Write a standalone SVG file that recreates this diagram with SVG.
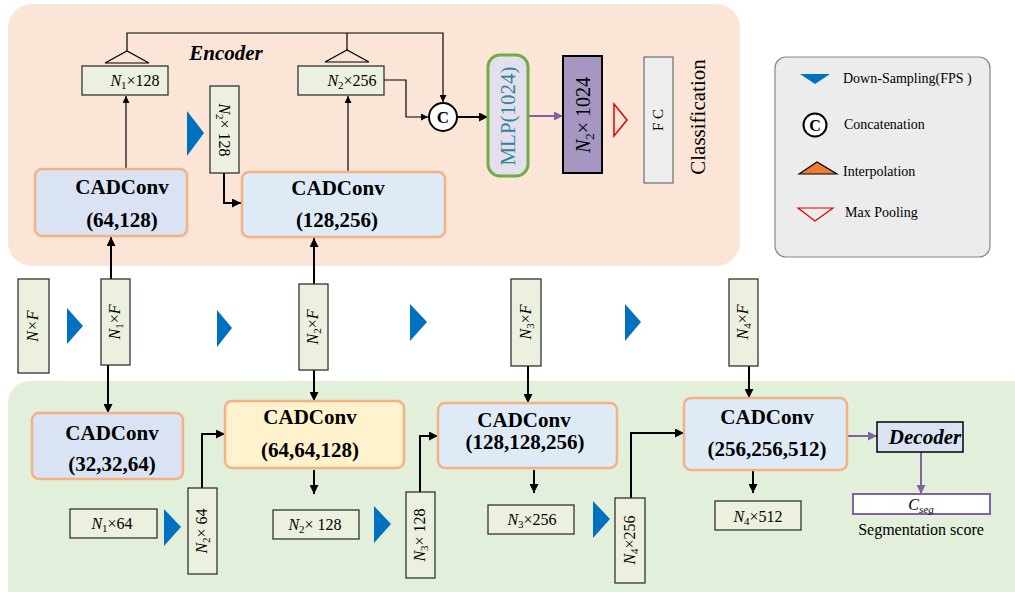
<svg xmlns="http://www.w3.org/2000/svg" width="1015" height="592" viewBox="0 0 1015 592" font-family="'Liberation Serif', serif">
<style>
.bg1{fill:#fbe5d6}
.bg2{fill:#e2efda}
.nb{fill:#ebf1de;stroke:#333;stroke-width:1.3}
.cad{stroke:#f4b183;stroke-width:2.5}
.t{font-family:"Liberation Serif",serif;fill:#000}
.n{font-size:16px}
.ct{font-size:21px;font-weight:bold;text-anchor:middle}
.ds{fill:#0070c0}
.ln{fill:none;stroke:#000}
.thk{stroke-width:2}
.thn{stroke-width:1.2}
.pu{fill:none;stroke:#8064a2;stroke-width:2}
.lg{font-size:14px}
</style>
<defs>
<marker id="ah" viewBox="0 0 10 10" refX="10" refY="5" markerWidth="10" markerHeight="9" markerUnits="userSpaceOnUse" orient="auto"><path d="M0,0L10,5L0,10z" fill="#000"/></marker>
<marker id="as" viewBox="0 0 10 10" refX="10" refY="5" markerWidth="8" markerHeight="7" markerUnits="userSpaceOnUse" orient="auto"><path d="M0,0L10,5L0,10z" fill="#000"/></marker>
<marker id="ap" viewBox="0 0 10 10" refX="10" refY="5" markerWidth="10" markerHeight="9" markerUnits="userSpaceOnUse" orient="auto"><path d="M0,0L10,5L0,10z" fill="#8064a2"/></marker>
</defs>

<g id="backgrounds">
<rect class="bg1" x="8" y="4" width="732" height="262" rx="24"/>
<path class="bg2" d="M30,381 H1015 V592 H8 V403 A22,22 0 0 1 30,381 Z"/>
</g>

<g id="connectors">
<path class="ln thn" d="M127,51 V33 H443 V102" marker-end="url(#as)"/>
<path class="ln thn" d="M347,50 V33"/>
<path class="ln thn" d="M126,169 V96" marker-end="url(#as)"/>
<path class="ln thn" d="M348,172 V96" marker-end="url(#as)"/>
<path class="ln thn" d="M384,80 H406 V117 H428" marker-end="url(#as)"/>
<path class="ln thk" d="M224,173 V203 H241" marker-end="url(#ah)"/>
<path class="ln thk" d="M458,117 H488" marker-end="url(#ah)"/>
<path class="pu" d="M528,116 H563" marker-end="url(#ap)"/>
<path class="ln thk" d="M111,279 V237" marker-end="url(#ah)"/>
<path class="ln thk" d="M108,365 V413" marker-end="url(#ah)"/>
<path class="ln thk" d="M314,284 V238" marker-end="url(#ah)"/>
<path class="ln thk" d="M314,370 V401" marker-end="url(#ah)"/>
<path class="ln thk" d="M528,366 V403" marker-end="url(#ah)"/>
<path class="ln thk" d="M749,366 V398" marker-end="url(#ah)"/>
<path class="ln thk" d="M202,488 V434 H225" marker-end="url(#ah)"/>
<path class="ln thk" d="M314,470 V494" marker-end="url(#ah)"/>
<path class="ln thk" d="M420,492 V436 H438" marker-end="url(#ah)"/>
<path class="ln thk" d="M534,470 V493" marker-end="url(#ah)"/>
<path class="ln thk" d="M631,498 V433 H684" marker-end="url(#ah)"/>
<path class="ln thk" d="M753,470 V493" marker-end="url(#ah)"/>
<path class="pu" d="M847,436 H877" marker-end="url(#ap)"/>
<path class="pu" d="M921,452 V494" marker-end="url(#ap)"/>
</g>

<g id="encoder-label"><text class="t" x="226" y="60" font-size="21" font-weight="bold" font-style="italic" text-anchor="middle">Encoder</text></g>

<g id="interp1"><polygon points="105,63 127,51 149,63" fill="none" stroke="#000" stroke-width="1.2"/></g>
<g id="interp2"><polygon points="325,62 347,50 369,62" fill="none" stroke="#000" stroke-width="1.2"/></g>

<g id="n1x128"><rect class="nb" x="82" y="66" width="86" height="29"/>
<text class="t n" x="135" y="86" text-anchor="middle"><tspan font-style="italic">N</tspan><tspan font-size="11" dy="3">1</tspan><tspan dy="-3">×128</tspan></text></g>

<g id="n2x256"><rect class="nb" x="298" y="66" width="86" height="29"/>
<text class="t n" x="352" y="86" text-anchor="middle"><tspan font-style="italic">N</tspan><tspan font-size="11" dy="3">2</tspan><tspan dy="-3">×256</tspan></text></g>

<g id="enc-ds"><polygon class="ds" points="187,111 204,133 187,156"/></g>

<g id="n2x128v"><rect class="nb" x="210" y="86" width="29" height="87"/>
<text class="t n" transform="translate(224,130) rotate(90)" x="0" y="5" text-anchor="middle"><tspan font-style="italic">N</tspan><tspan font-size="11" dy="3">2</tspan><tspan dy="-3">× 128</tspan></text></g>

<g id="cad-64-128"><rect class="cad" x="35" y="169" width="152" height="67" rx="7" fill="#dae3f3"/>
<text class="t ct" x="122" y="194">CADConv</text><text class="t ct" x="122" y="227">(64,128)</text></g>

<g id="cad-128-256"><rect class="cad" x="242" y="172" width="203" height="65" rx="7" fill="#deebf7"/>
<text class="t ct" x="338" y="195">CADConv</text><text class="t ct" x="337" y="227">(128,256)</text></g>

<g id="concat"><circle cx="443" cy="117" r="14" fill="#fff" stroke="#000" stroke-width="2"/>
<text class="t" x="443" y="123" font-size="17" font-weight="bold" text-anchor="middle">C</text></g>

<g id="mlp"><rect x="488" y="55" width="40" height="121" rx="12" fill="#e4dfec" stroke="#70ad47" stroke-width="3"/>
<text class="t" transform="translate(508,116) rotate(-90)" x="0" y="7" font-size="21" text-anchor="middle" style="fill:#31849b">MLP(1024)</text></g>

<g id="n2x1024"><rect x="563" y="56" width="39" height="117" fill="#a597c2" stroke="#000" stroke-width="2"/>
<text class="t" transform="translate(583,115) rotate(-90)" x="0" y="7" font-size="20" text-anchor="middle"><tspan font-style="italic">N</tspan><tspan font-size="13" dy="4">2</tspan><tspan dy="-4">× 1024</tspan></text></g>

<g id="maxpool"><polygon points="614,104 627,120 614,136" fill="none" stroke="#e00000" stroke-width="1.5"/></g>

<g id="fc"><rect x="644" y="57" width="29" height="126" fill="#eeeeee" stroke="#555" stroke-width="1"/>
<text class="t" transform="translate(658,120) rotate(-90)" x="0" y="5" font-size="15" text-anchor="middle">F C</text></g>

<g id="classification"><text class="t" transform="translate(698,117) rotate(-90)" x="0" y="7" font-size="21" text-anchor="middle">Classification</text></g>

<g id="legend"><rect x="775" y="57" width="215" height="200" rx="11" fill="#ececec" stroke="#888" stroke-width="1.2"/>
<polygon class="ds" points="800,74 830,74 815,84"/>
<text class="t lg" x="843" y="83">Down-Sampling(FPS )</text>
<circle cx="815" cy="125" r="11.5" fill="#fff" stroke="#000" stroke-width="2"/>
<text class="t" x="815" y="131" font-size="16" font-weight="bold" text-anchor="middle">C</text>
<text class="t lg" x="844" y="129">Concatenation</text>
<polygon points="799,174 817,162 837,174" fill="#ed7d31" stroke="#000" stroke-width="1.2"/>
<text class="t lg" x="843" y="176">Interpolation</text>
<polygon points="798,208 833,208 815,221" fill="none" stroke="#e00000" stroke-width="1.2"/>
<text class="t lg" x="845" y="217">Max Pooling</text></g>

<g id="nxf"><rect class="nb" x="18" y="279" width="31" height="94"/>
<text class="t n" transform="translate(33,326) rotate(-90)" x="0" y="5" text-anchor="middle" font-style="italic">N×F</text></g>
<g id="ds1"><polygon class="ds" points="67,308 83,326 67,344"/></g>
<g id="n1xf"><rect class="nb" x="101" y="279" width="29" height="86"/>
<text class="t n" transform="translate(115,322) rotate(-90)" x="0" y="5" text-anchor="middle"><tspan font-style="italic">N</tspan><tspan font-size="11" dy="3">1</tspan><tspan dy="-3">×</tspan><tspan font-style="italic">F</tspan></text></g>
<g id="ds2"><polygon class="ds" points="217,310 232,328 217,347"/></g>
<g id="n2xf"><rect class="nb" x="299" y="284" width="29" height="86"/>
<text class="t n" transform="translate(313,327) rotate(-90)" x="0" y="5" text-anchor="middle"><tspan font-style="italic">N</tspan><tspan font-size="11" dy="3">2</tspan><tspan dy="-3">×</tspan><tspan font-style="italic">F</tspan></text></g>
<g id="ds3"><polygon class="ds" points="410,304 427,322 410,341"/></g>
<g id="n3xf"><rect class="nb" x="511" y="279" width="30" height="87"/>
<text class="t n" transform="translate(526,322) rotate(-90)" x="0" y="5" text-anchor="middle"><tspan font-style="italic">N</tspan><tspan font-size="11" dy="3">3</tspan><tspan dy="-3">×</tspan><tspan font-style="italic">F</tspan></text></g>
<g id="ds4"><polygon class="ds" points="625,304 641,322 625,341"/></g>
<g id="n4xf"><rect class="nb" x="729" y="279" width="29" height="87"/>
<text class="t n" transform="translate(743,322) rotate(-90)" x="0" y="5" text-anchor="middle"><tspan font-style="italic">N</tspan><tspan font-size="11" dy="3">4</tspan><tspan dy="-3">×</tspan><tspan font-style="italic">F</tspan></text></g>

<g id="cad-32-32-64"><rect class="cad" x="32" y="413" width="151" height="66" rx="7" fill="#dae3f3"/>
<text class="t ct" x="112" y="440">CADConv</text><text class="t ct" x="112" y="471">(32,32,64)</text></g>
<g id="cad-64-64-128"><rect class="cad" x="225" y="401" width="179" height="67" rx="7" fill="#fff2cc"/>
<text class="t ct" x="310" y="424">CADConv</text><text class="t ct" x="310" y="457">(64,64,128)</text></g>
<g id="cad-128-128-256"><rect class="cad" x="438" y="403" width="179" height="65" rx="7" fill="#deebf7"/>
<text class="t ct" x="524" y="427">CADConv</text><text class="t ct" x="525" y="449">(128,128,256)</text></g>
<g id="cad-256-256-512"><rect class="cad" x="684" y="398" width="163" height="72" rx="7" fill="#deebf7"/>
<text class="t ct" x="767" y="424">CADConv</text><text class="t ct" x="767" y="456">(256,256,512)</text></g>

<g id="n1x64"><rect class="nb" x="70" y="509" width="87" height="29"/>
<text class="t n" x="112" y="529" text-anchor="middle"><tspan font-style="italic">N</tspan><tspan font-size="11" dy="3">1</tspan><tspan dy="-3">×64</tspan></text></g>
<g id="ds5"><polygon class="ds" points="164,509 181,527 164,546"/></g>
<g id="n2x64"><rect class="nb" x="188" y="488" width="29" height="86"/>
<text class="t n" transform="translate(202,531) rotate(-90)" x="0" y="5" text-anchor="middle"><tspan font-style="italic">N</tspan><tspan font-size="11" dy="3">2</tspan><tspan dy="-3">× 64</tspan></text></g>
<g id="n2x128"><rect class="nb" x="273" y="510" width="86" height="29"/>
<text class="t n" x="315" y="530" text-anchor="middle"><tspan font-style="italic">N</tspan><tspan font-size="11" dy="3">2</tspan><tspan dy="-3">× 128</tspan></text></g>
<g id="ds6"><polygon class="ds" points="374,506 391,524 374,543"/></g>
<g id="n3x128"><rect class="nb" x="406" y="492" width="29" height="86"/>
<text class="t n" transform="translate(420,535) rotate(-90)" x="0" y="5" text-anchor="middle"><tspan font-style="italic">N</tspan><tspan font-size="11" dy="3">3</tspan><tspan dy="-3">× 128</tspan></text></g>
<g id="n3x256"><rect class="nb" x="488" y="505" width="86" height="29"/>
<text class="t n" x="532" y="525" text-anchor="middle"><tspan font-style="italic">N</tspan><tspan font-size="11" dy="3">3</tspan><tspan dy="-3">×256</tspan></text></g>
<g id="ds7"><polygon class="ds" points="593,501 610,519 593,538"/></g>
<g id="n4x256"><rect class="nb" x="615" y="498" width="30" height="85"/>
<text class="t n" transform="translate(630,540) rotate(-90)" x="0" y="5" text-anchor="middle"><tspan font-style="italic">N</tspan><tspan font-size="11" dy="3">4</tspan><tspan dy="-3">×256</tspan></text></g>
<g id="n4x512"><rect class="nb" x="715" y="501" width="86" height="29"/>
<text class="t n" x="758" y="522" text-anchor="middle"><tspan font-style="italic">N</tspan><tspan font-size="11" dy="3">4</tspan><tspan dy="-3">×512</tspan></text></g>

<g id="decoder"><rect x="877" y="422" width="86" height="30" fill="#dae3f3" stroke="#000" stroke-width="1.5"/>
<text class="t" x="925" y="444" font-size="21" font-weight="bold" font-style="italic" text-anchor="middle">Decoder</text></g>
<g id="cseg"><rect x="853" y="494" width="137" height="20" fill="#fff" stroke="#8064a2" stroke-width="2"/>
<text class="t" x="921" y="510" font-size="16" text-anchor="middle"><tspan font-style="italic">C</tspan><tspan font-size="11" font-style="italic" dy="3">seg</tspan></text>
<text class="t" x="921" y="535" font-size="16" text-anchor="middle">Segmentation score</text></g>
</svg>
